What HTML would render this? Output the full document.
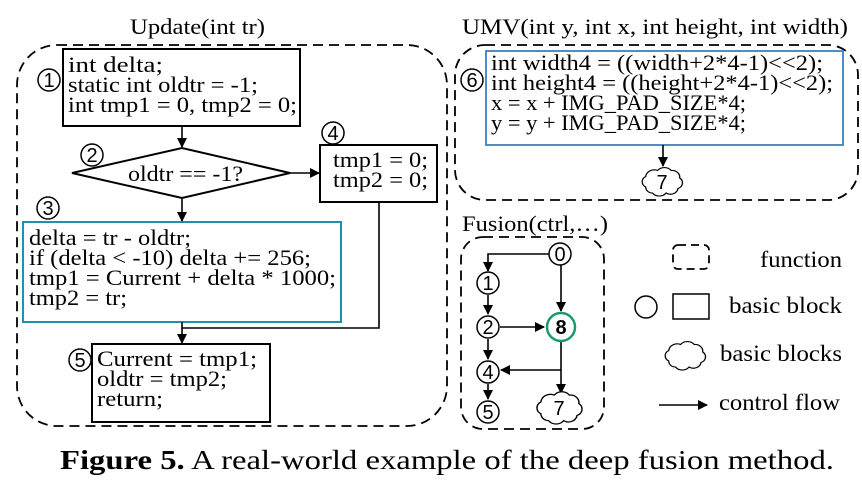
<!DOCTYPE html>
<html><head><meta charset="utf-8"><style>
html,body{margin:0;padding:0;background:#fff;}
svg{display:block;}
text{font-family:"Liberation Serif",serif;fill:#000;}
.s{font-family:"Liberation Sans",sans-serif;}
</style></head><body>
<svg width="862" height="485" viewBox="0 0 862 485" xmlns="http://www.w3.org/2000/svg">
<defs>
<marker id="a" markerWidth="10" markerHeight="10" refX="9" refY="5" orient="auto" markerUnits="userSpaceOnUse">
<path d="M0,0 L10,5 L0,10 z" fill="#000"/></marker>
<path id="cl" d="M-18,8 a8,8 0 0,1 0,-14 a10,10 0 0,1 14,-8 a10,10 0 0,1 16,0 a9,9 0 0,1 10,10 a8,8 0 0,1 -2,14 a9,9 0 0,1 -14,6 a10,10 0 0,1 -16,0 a8,8 0 0,1 -8,-8 z" fill="#fff" stroke="#000" stroke-width="1.5"/>
</defs>
<g fill="none" stroke="#000" stroke-width="1.8" stroke-dasharray="10,6">
<rect x="17" y="45" width="430" height="381" rx="40"/>
<rect x="455" y="45" width="403" height="155" rx="30"/>
<rect x="461" y="237" width="143" height="192" rx="22"/>
<rect x="673" y="245" width="36" height="24" rx="5" stroke-dasharray="8,5"/>
</g>
<g font-size="22" lengthAdjust="spacingAndGlyphs">
<text x="130" y="34" textLength="135" lengthAdjust="spacingAndGlyphs">Update(int tr)</text>
<text x="462" y="34" textLength="386" lengthAdjust="spacingAndGlyphs">UMV(int y, int x, int height, int width)</text>
<text x="462" y="231" textLength="146" lengthAdjust="spacingAndGlyphs">Fusion(ctrl,…)</text>
</g>
<g fill="#fff" stroke="#000" stroke-width="2">
<rect x="63" y="49" width="237" height="77"/>
<path d="M72,173 L182,148 L290,173 L182,198 Z"/>
<rect x="320" y="145" width="117" height="57"/>
<rect x="92" y="344" width="178" height="78"/>
</g>
<rect x="23" y="222" width="318" height="100" fill="#fff" stroke="#1a93ad" stroke-width="2"/>
<rect x="486" y="51" width="357" height="94" fill="#fff" stroke="#3f7fc0" stroke-width="1.8"/>
<g font-size="22">
<text x="68" y="72" textLength="95" lengthAdjust="spacingAndGlyphs">int delta;</text>
<text x="68" y="92" textLength="190" lengthAdjust="spacingAndGlyphs">static int oldtr = -1;</text>
<text x="68" y="112" textLength="229" lengthAdjust="spacingAndGlyphs">int tmp1 = 0, tmp2 = 0;</text>
<text x="128" y="181" textLength="115" lengthAdjust="spacingAndGlyphs">oldtr == -1?</text>
<text x="333" y="167" textLength="95" lengthAdjust="spacingAndGlyphs">tmp1 = 0;</text>
<text x="333" y="187" textLength="95" lengthAdjust="spacingAndGlyphs">tmp2 = 0;</text>
<text x="29" y="245" textLength="162" lengthAdjust="spacingAndGlyphs">delta = tr - oldtr;</text>
<text x="29" y="265" textLength="282" lengthAdjust="spacingAndGlyphs">if (delta &lt; -10) delta += 256;</text>
<text x="29" y="285" textLength="307" lengthAdjust="spacingAndGlyphs">tmp1 = Current + delta * 1000;</text>
<text x="29" y="305" textLength="98" lengthAdjust="spacingAndGlyphs">tmp2 = tr;</text>
<text x="97" y="366" textLength="160" lengthAdjust="spacingAndGlyphs">Current = tmp1;</text>
<text x="97" y="386" textLength="130" lengthAdjust="spacingAndGlyphs">oldtr = tmp2;</text>
<text x="97" y="406" textLength="66" lengthAdjust="spacingAndGlyphs">return;</text>
<text x="491" y="70" textLength="332" lengthAdjust="spacingAndGlyphs">int width4 = ((width+2*4-1)&lt;&lt;2);</text>
<text x="491" y="90" textLength="342" lengthAdjust="spacingAndGlyphs">int height4 = ((height+2*4-1)&lt;&lt;2);</text>
<text x="491" y="110" textLength="255" lengthAdjust="spacingAndGlyphs">x = x + IMG_PAD_SIZE*4;</text>
<text x="491" y="130" textLength="255" lengthAdjust="spacingAndGlyphs">y = y + IMG_PAD_SIZE*4;</text>
</g>
<g fill="none" stroke="#000" stroke-width="1.6">
<line x1="182" y1="126" x2="182" y2="147" marker-end="url(#a)"/>
<line x1="290" y1="173" x2="319" y2="173" marker-end="url(#a)"/>
<line x1="182" y1="198" x2="182" y2="221" marker-end="url(#a)"/>
<polyline points="379,202 379,328 182,328"/>
<line x1="182" y1="322" x2="182" y2="343" marker-end="url(#a)"/>
<line x1="663" y1="145" x2="663" y2="166" marker-end="url(#a)"/>
<polyline points="549,254 488,254 488,271" marker-end="url(#a)"/>
<line x1="488" y1="295" x2="488" y2="314" marker-end="url(#a)"/>
<line x1="500" y1="327" x2="544" y2="327" marker-end="url(#a)"/>
<line x1="561" y1="265" x2="561" y2="311" marker-end="url(#a)"/>
<line x1="488" y1="339" x2="488" y2="359" marker-end="url(#a)"/>
<line x1="561" y1="342" x2="561" y2="393" marker-end="url(#a)"/>
<line x1="561" y1="370" x2="501" y2="370" marker-end="url(#a)"/>
<line x1="488" y1="384" x2="488" y2="399" marker-end="url(#a)"/>
<line x1="659" y1="405" x2="707" y2="405" marker-end="url(#a)"/>
</g>
<g fill="#fff" stroke="#000" stroke-width="1.5">
<circle cx="49" cy="80" r="11"/><circle cx="92" cy="155" r="11"/>
<circle cx="333" cy="133" r="11"/><circle cx="48" cy="208" r="11"/>
<circle cx="80" cy="360" r="11"/><circle cx="472" cy="80" r="11"/>
<circle cx="560" cy="254" r="11"/><circle cx="488" cy="283" r="11"/>
<circle cx="488" cy="327" r="11"/><circle cx="488" cy="372" r="11"/>
<circle cx="488" cy="412" r="11"/>
<circle cx="646" cy="307" r="11"/>
<rect x="673" y="294" width="36" height="25"/>
</g>
<circle cx="561" cy="327" r="14" fill="#fff" stroke="#1a9a6e" stroke-width="2.5"/>
<use href="#cl" transform="translate(661,181) scale(0.85,0.75)"/>
<use href="#cl" transform="translate(558,407) scale(0.95,0.85)"/>
<use href="#cl" transform="translate(684,355) scale(0.85,0.75)"/>
<g font-size="20" text-anchor="middle">
<text class="s" x="49" y="87">1</text><text class="s" x="92" y="162">2</text>
<text class="s" x="333" y="140">4</text><text class="s" x="48" y="215">3</text>
<text class="s" x="80" y="367">5</text><text class="s" x="472" y="87">6</text>
<text class="s" x="560" y="261">0</text><text class="s" x="488" y="290">1</text>
<text class="s" x="488" y="334">2</text><text class="s" x="488" y="379">4</text>
<text class="s" x="488" y="419">5</text>
<text class="s" x="561" y="334" font-weight="bold">8</text>
<text class="s" x="662" y="189">7</text><text class="s" x="559" y="415">7</text>
</g>
<g font-size="23">
<text x="760" y="267" textLength="82" lengthAdjust="spacingAndGlyphs">function</text>
<text x="729" y="313" textLength="113" lengthAdjust="spacingAndGlyphs">basic block</text>
<text x="720" y="361" textLength="122" lengthAdjust="spacingAndGlyphs">basic blocks</text>
<text x="719" y="410" textLength="121" lengthAdjust="spacingAndGlyphs">control flow</text>
</g>
<text x="60" y="469" font-size="27" textLength="774" lengthAdjust="spacingAndGlyphs"><tspan font-weight="bold">Figure 5.</tspan> A real-world example of the deep fusion method.</text>
</svg>
</body></html>
